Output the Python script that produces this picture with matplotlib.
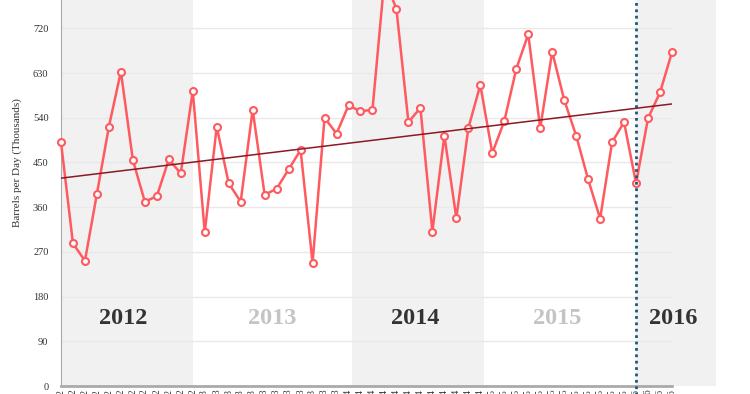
import matplotlib
matplotlib.use("Agg")
import matplotlib.pyplot as plt
import numpy as np

# monthly production, Jan 2012 - Apr 2016 (thousand barrels per day)
months = ['Jan', 'Feb', 'Mar', 'Apr', 'May', 'Jun', 'Jul', 'Aug', 'Sep', 'Oct', 'Nov', 'Dec']
labels = [m + '-' + str(y) for y in range(12, 17) for m in months][:52]
values = [491, 287, 252, 387, 522, 633, 455, 371, 382, 456, 428, 594,
          309, 522, 408, 371, 556, 385, 397, 436, 475, 248, 540, 508,
          565, 553, 556, 820, 759, 531, 560, 311, 504, 338, 519, 606,
          469, 533, 638, 708, 519, 673, 576, 504, 416, 337, 491, 531,
          408, 539, 591, 672]
years = ['2012', '2013', '2014', '2015', '2016']
year_pos = [5.2, 17.6, 29.6, 41.4, 51.1]
year_colors = ['#333333', '#c4c4c4', '#333333', '#c4c4c4', '#333333']
bands = [(0, 11), (24.25, 35.3), (48, 54.7)]

x = np.arange(len(values))
serif = 'Liberation Serif'

fig = plt.figure(figsize=(7.5, 3.94), dpi=100)
ax = fig.add_axes([0.0813, 0.0203, 0.8147, 0.9797])

for a, b in bands:
    ax.axvspan(a, b, color='#f1f1f1', zorder=0, clip_on=False, lw=0)

ax.set_ylim(0, 777)
ax.set_xlim(0, 51)
ax.set_yticks(np.arange(0, 721, 90))
ax.yaxis.grid(True, color='#e9e9e9', lw=1)
ax.set_axisbelow(True)
ax.tick_params(axis='y', length=0, pad=9, labelsize=7.5, labelcolor='#333333')
for t in ax.get_yticklabels():
    t.set_family(serif)
ax.set_xticks(x)
ax.set_xticklabels(labels, rotation=90, fontsize=7, family=serif, color='#333333')
ax.tick_params(axis='x', length=0, pad=2)

for s in ['top', 'right']:
    ax.spines[s].set_visible(False)
ax.spines['left'].set_color('#aaaaaa')
ax.spines['bottom'].set_color('#aaaaaa')
ax.spines['bottom'].set_linewidth(2)

ax.plot(x, values, color='#ff5a5f', lw=1.8, marker='o', ms=5, mfc='white',
        mec='#ff5a5f', mew=1.5, clip_on=False, zorder=4)

# linear trend
k, c = np.polyfit(x, values, 1)
ax.plot(x, k * x + c, color='#8b1a22', lw=1.1, zorder=5)

ax.axvline(48, color='#1d5a7a', lw=2, ls=(0, (1, 1.3)), ymin=-0.03, clip_on=False, zorder=6)

for yr, xp, col in zip(years, year_pos, year_colors):
    ax.text(xp, 135, yr, fontsize=17.5, fontweight='bold', family=serif,
            color=col, ha='center', va='center', clip_on=False)

ax.set_ylabel('Barrels per Day (Thousands)', family=serif, fontsize=8, color='#333333')
ax.yaxis.set_label_coords(-0.064, 0.578)

fig.savefig('out.png', dpi=100)
